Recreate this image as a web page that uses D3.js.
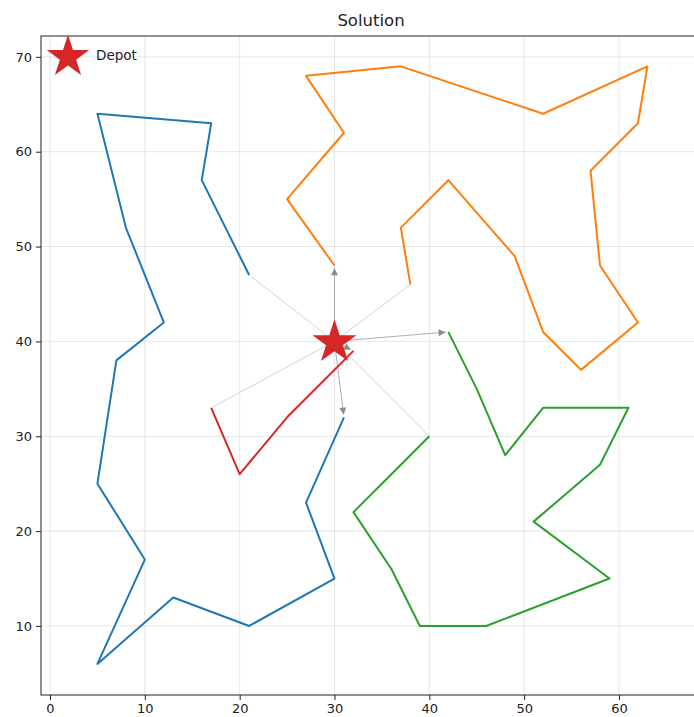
<!DOCTYPE html>
<html>
<head>
<meta charset="utf-8">
<script src="https://cdn.jsdelivr.net/npm/d3@7"></script>
<style>
  body { margin: 0; background: #fff; }
  text { font-family: "DejaVu Sans", sans-serif; }
</style>
</head>
<body>
<div id="chart"></div>
<script>
const depot = [30, 40]
const routeBlue = [[31, 32], [27, 23], [30, 15], [21, 10], [13, 13], [5, 6], [10, 17], [5, 25], [7, 38], [12, 42], [8, 52], [5, 64], [17, 63], [16, 57], [21, 47]]
const routeOrange = [[30, 48], [25, 55], [31, 62], [27, 68], [37, 69], [52, 64], [63, 69], [62, 63], [57, 58], [58, 48], [62, 42], [56, 37], [52, 41], [49, 49], [42, 57], [37, 52], [38, 46]]
const routeGreen = [[42, 41], [45, 35], [48, 28], [52, 33], [61, 33], [58, 27], [51, 21], [59, 15], [46, 10], [39, 10], [36, 16], [32, 22], [40, 30]]
const routeRed = [[32, 39], [25, 32], [20, 26], [17, 33]]
const routes = [routeBlue, routeOrange, routeGreen, routeRed]
const colors = ["#1f77b4", "#ff7f0e", "#2ca02c", "#d62728"]
const xTicks = [0, 10, 20, 30, 40, 50, 60]
const yTicks = [10, 20, 30, 40, 50, 60, 70]

const W = 694, H = 717
const BOX = { LEFT: 41, RIGHT: 701, TOP: 36, BOTTOM: 695 }

const svg = d3.select("#chart").append("svg")
    .attr("width", W)
    .attr("height", H)

const x = d3.scaleLinear().domain([-0.95, 68.65]).range([BOX.LEFT, BOX.RIGHT])
const y = d3.scaleLinear().domain([2.72, 72.2]).range([BOX.BOTTOM, BOX.TOP])

// Grid
const grid = svg.append("g").attr("stroke", "#b0b0b0").attr("stroke-opacity", 0.3).attr("stroke-width", 1)
xTicks.forEach(t => grid.append("line")
    .attr("x1", x(t)).attr("x2", x(t)).attr("y1", BOX.TOP).attr("y2", BOX.BOTTOM))
yTicks.forEach(t => grid.append("line")
    .attr("y1", y(t)).attr("y2", y(t)).attr("x1", BOX.LEFT).attr("x2", BOX.RIGHT))

// Arrow marker
svg.append("defs").append("marker")
    .attr("id", "head")
    .attr("viewBox", "0 0 10 10")
    .attr("refX", 10).attr("refY", 5)
    .attr("markerUnits", "userSpaceOnUse")
    .attr("markerWidth", 8).attr("markerHeight", 7)
    .attr("orient", "auto")
    .append("path")
    .attr("d", "M0,0 L10,5 L0,10 Z")
    .attr("fill", "#8a8a8a")

const line = d3.line().x(d => x(d[0])).y(d => y(d[1]))

// depot links
const links = svg.append("g")
routes.forEach(r => {
    const first = r[0], last = r[r.length - 1]
    // shrink the outgoing arrow a little, like matplotlib annotate
    const dx = x(first[0]) - x(depot[0]), dy = y(first[1]) - y(depot[1])
    const len = Math.hypot(dx, dy)
    const s = 2.7 / len
    links.append("line")
        .attr("x1", x(depot[0]) + dx * s).attr("y1", y(depot[1]) + dy * s)
        .attr("x2", x(first[0]) - dx * s).attr("y2", y(first[1]) - dy * s)
        .attr("stroke", "#9a9a9a").attr("stroke-width", 0.8)
        .attr("marker-end", "url(#head)")
    links.append("line")
        .attr("x1", x(last[0])).attr("y1", y(last[1]))
        .attr("x2", x(depot[0])).attr("y2", y(depot[1]))
        .attr("stroke", "#c8c8c8").attr("stroke-width", 0.8)
})

// Routes
svg.append("g").selectAll("path")
    .data(routes)
    .enter().append("path")
    .attr("d", d => line(d))
    .attr("fill", "none")
    .attr("stroke", (d, i) => colors[i])
    .attr("stroke-width", 2)
    .attr("stroke-linejoin", "round")

// Depot star
const star = d3.symbol().type(d3.symbolStar).size(600)
svg.append("path")
    .attr("d", star())
    .attr("transform", `translate(${x(depot[0])}, ${y(depot[1]) + 1})`)
    .attr("fill", "#d62728")

// Axes
const xAxis = svg.append("g")
    .attr("transform", `translate(0, ${BOX.BOTTOM})`)
    .call(d3.axisBottom(x).tickValues(xTicks).tickSize(5).tickPadding(4).tickSizeOuter(0))
const yAxis = svg.append("g")
    .attr("transform", `translate(${BOX.LEFT}, 0)`)
    .call(d3.axisLeft(y).tickValues(yTicks).tickSize(5).tickPadding(4).tickSizeOuter(0))
;[xAxis, yAxis].forEach(a => {
    a.selectAll("text").attr("font-size", "13px").attr("fill", "#222").attr("font-family", "DejaVu Sans, sans-serif")
    a.selectAll("line").attr("stroke", "#222")
    a.select(".domain").remove()
})

// frame
svg.append("rect")
    .attr("x", BOX.LEFT).attr("y", BOX.TOP)
    .attr("width", BOX.RIGHT - BOX.LEFT).attr("height", BOX.BOTTOM - BOX.TOP)
    .attr("fill", "none").attr("stroke", "#222").attr("stroke-width", 1)

// Title
svg.append("text")
    .attr("x", (BOX.LEFT + BOX.RIGHT) / 2)
    .attr("y", 26)
    .attr("text-anchor", "middle")
    .attr("font-size", "16.5px")
    .attr("fill", "#222")
    .text("Solution")

// Legend
svg.append("path")
    .attr("d", d3.symbol().type(d3.symbolStar).size(560)())
    .attr("transform", "translate(68, 57)")
    .attr("fill", "#d62728")
svg.append("text")
    .attr("x", 96).attr("y", 60)
    .attr("font-size", "13.5px")
    .attr("fill", "#222")
    .text("Depot")
</script>
</body>
</html>
